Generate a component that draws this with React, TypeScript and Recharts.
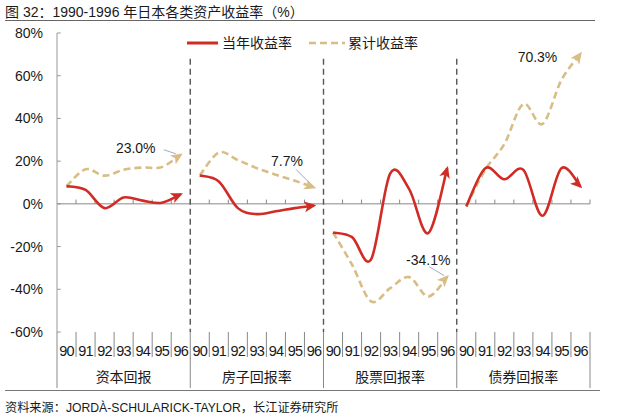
import React from 'react';
import { LineChart, Line, XAxis, YAxis, ReferenceLine } from 'recharts';

const YEARS = ['90', '91', '92', '93', '94', '95', '96'];
const GROUPS = ['资本回报', '房子回报率', '股票回报率', '债券回报率'];
const Y_TICKS = [-60, -40, -20, 0, 20, 40, 60, 80];

// 当年收益率 (%), one array per asset class
const capitalYearly = [8.3, 6.5, -2.0, 3.0, 1.5, 0.5, 4.5];
const housingYearly = [13.3, 10.5, -2.0, -4.8, -3.5, -2.0, -0.8];
const equityYearly = [-13.4, -15.6, -26.0, 14.2, 6.9, -13.7, 16.7];
const bondYearly = [-1.2, 16.7, 11.5, 15.9, -5.6, 16.7, 8.1];

// 累计收益率 (%)
const capitalCumulative = [8.3, 16.2, 13.2, 16.0, 17.0, 17.2, 23.0];
const housingCumulative = [13.3, 24.0, 20.5, 16.7, 13.6, 10.8, 7.7];
const equityCumulative = [-13.4, -28.5, -45.7, -39.5, -34.3, -43.4, -34.1];
const bondCumulative = [-1.2, 16.0, 28.0, 46.8, 37.4, 58.0, 70.3];

const yearlySeries = [capitalYearly, housingYearly, equityYearly, bondYearly];
const cumulativeSeries = [capitalCumulative, housingCumulative, equityCumulative, bondCumulative];

const RED = '#D12B25';
const TAN = '#D8BD85';
const TEXT = '#1a1a1a';
const FONT = '"Liberation Sans", Arial, "Noto Sans CJK SC", sans-serif';

const W = 640;
const H = 418;
const MARGIN = { top: 33, right: 50, bottom: 28, left: 0 };
const Y_W = 57;
const X_H = 58;
const N = YEARS.length * GROUPS.length;
const CW = (W - MARGIN.left - MARGIN.right - Y_W) / N;

// label placement for the final cumulative value of each group
const LABEL_POS = [
  { dx: -45, dy: -7, lead: [-17, -5, -5, -1] },
  { dx: -27, dy: -26, lead: [-18, -18, -7, -7] },
  { dx: -19, dy: -17, lead: [-18, -10, -3, -1] },
  { dx: -43, dy: 3, lead: null },
];

const data = Array.from({ length: N }, (_, i) => {
  const g = Math.floor(i / YEARS.length);
  const k = i % YEARS.length;
  const row: Record<string, number | string> = { i, year: YEARS[k] };
  row[`cur${g}`] = yearlySeries[g][k];
  row[`cum${g}`] = cumulativeSeries[g][k];
  return row;
});

// Excel-style smoothed line (Catmull-Rom through every point)
const excelSmooth = (context: any) => {
  let pts: number[][] = [];
  return {
    areaStart() {},
    areaEnd() {},
    lineStart() {
      pts = [];
    },
    point(x: number, y: number) {
      pts.push([+x, +y]);
    },
    lineEnd() {
      const n = pts.length;
      if (!n) return;
      context.moveTo(pts[0][0], pts[0][1]);
      for (let k = 0; k < n - 1; k++) {
        const p0 = pts[Math.max(k - 1, 0)];
        const p1 = pts[k];
        const p2 = pts[k + 1];
        const p3 = pts[Math.min(k + 2, n - 1)];
        context.bezierCurveTo(
          p1[0] + (p2[0] - p0[0]) / 6,
          p1[1] + (p2[1] - p0[1]) / 6,
          p2[0] - (p3[0] - p1[0]) / 6,
          p2[1] - (p3[1] - p1[1]) / 6,
          p2[0],
          p2[1]
        );
      }
    },
  };
};

const CategoryTick = (props: any) => {
  const { x, y, payload } = props;
  const i = payload.value;
  const k = i % YEARS.length;
  const g = Math.floor(i / YEARS.length);
  const left = x - CW / 2;
  return (
    <g>
      <line x1={left} x2={left} y1={y} y2={y + (k === 0 ? X_H - 2 : 25)} stroke="#888" strokeWidth={1} />
      {i === N - 1 && (
        <line x1={x + CW / 2} x2={x + CW / 2} y1={y} y2={y + X_H - 2} stroke="#888" strokeWidth={1} />
      )}
      <text x={x} y={y + 24} textAnchor="middle" fontSize={14.5} letterSpacing={-0.8} fill={TEXT} fontFamily={FONT}>
        {YEARS[k]}
      </text>
      {k === 3 && (
        <text x={x} y={y + 50} textAnchor="middle" fontSize={14} fill={TEXT} fontFamily={FONT}>
          {GROUPS[g]}
        </text>
      )}
    </g>
  );
};

const endLabel = (g: number) => (props: any) => {
  const { x, y, index, value } = props;
  if (index !== g * YEARS.length + YEARS.length - 1 || value == null) return null;
  const pos = LABEL_POS[g];
  return (
    <g>
      {pos.lead && (
        <line
          x1={x + pos.lead[0]}
          y1={y + pos.lead[1]}
          x2={x + pos.lead[2]}
          y2={y + pos.lead[3]}
          stroke="#8a93b0"
          strokeWidth={0.8}
        />
      )}
      <text
        x={x + pos.dx}
        y={y + pos.dy}
        textAnchor="middle"
        dominantBaseline="central"
        fontSize={14}
        fill={TEXT}
        fontFamily={FONT}
      >
        {`${Number(value).toFixed(1)}%`}
      </text>
    </g>
  );
};

export default function App() {
  return (
    <div style={{ position: 'absolute', left: 0, top: 0, width: W, height: H, background: '#fff', fontFamily: FONT, color: TEXT }}>
      <div style={{ position: 'absolute', left: 5, top: 3, fontSize: 14, lineHeight: '18px', whiteSpace: 'nowrap' }}>
        图 32：1990-1996 年日本各类资产收益率（%）
      </div>
      <div style={{ position: 'absolute', left: 5, top: 20, width: 590, height: 1, background: '#666' }} />

      <LineChart width={W} height={H} data={data} margin={MARGIN}>
        <defs>
          <marker id="arrowRed" viewBox="0 0 10 10" refX={8} refY={5} markerWidth={12} markerHeight={12} markerUnits="userSpaceOnUse" orient="auto">
            <path d="M0,0.5 L10,5 L0,9.5 L2.5,5 z" fill={RED} />
          </marker>
          <marker id="arrowTan" viewBox="0 0 10 10" refX={8} refY={5} markerWidth={12} markerHeight={12} markerUnits="userSpaceOnUse" orient="auto">
            <path d="M0,0.5 L10,5 L0,9.5 L2.5,5 z" fill={TAN} />
          </marker>
        </defs>
        <XAxis
          dataKey="i"
          type="number"
          domain={[-0.5, N - 0.5]}
          ticks={data.map((d) => d.i as number)}
          interval={0}
          height={X_H}
          tickSize={0}
          tickMargin={0}
          tickLine={false}
          axisLine={false}
          tick={CategoryTick}
        />
        <YAxis
          domain={[-60, 80]}
          ticks={Y_TICKS}
          width={Y_W}
          tickLine={false}
          tickSize={6}
          tickMargin={8}
          axisLine={{ stroke: '#999' }}
          tickFormatter={(v) => `${v}%`}
          tick={{ fontSize: 14, fill: TEXT, fontFamily: FONT }}
        />
        {Y_TICKS.map((v) => (
          <ReferenceLine
            key={`yt${v}`}
            segment={[{ x: -0.5, y: v }, { x: -0.3, y: v }]}
            stroke="#999"
            strokeWidth={1}
          />
        ))}
        <ReferenceLine y={0} stroke="#888" strokeWidth={1} />
        {data.map((d) => (
          <ReferenceLine
            key={`zt${d.i}`}
            segment={[{ x: (d.i as number) + 0.5, y: 0 }, { x: (d.i as number) + 0.5, y: 2 }]}
            stroke="#888"
            strokeWidth={1}
          />
        ))}
        {GROUPS.slice(1).map((_, g) => (
          <ReferenceLine
            key={`sep${g}`}
            segment={[{ x: (g + 1) * YEARS.length - 0.5, y: 68 }, { x: (g + 1) * YEARS.length - 0.5, y: -60 }]}
            stroke="#555"
            strokeWidth={1.4}
            strokeDasharray="6 4"
          />
        ))}
        {GROUPS.map((_, g) => (
          <Line
            key={`cum${g}`}
            dataKey={`cum${g}`}
            type={excelSmooth as any}
            stroke={TAN}
            strokeWidth={2.6}
            strokeDasharray="7 4"
            dot={false}
            activeDot={false}
            markerEnd="url(#arrowTan)"
            label={endLabel(g)}
            isAnimationActive={false}
          />
        ))}
        {GROUPS.map((_, g) => (
          <Line
            key={`cur${g}`}
            dataKey={`cur${g}`}
            type={excelSmooth as any}
            stroke={RED}
            strokeWidth={2.6}
            dot={false}
            activeDot={false}
            markerEnd="url(#arrowRed)"
            isAnimationActive={false}
          />
        ))}
      </LineChart>

      <svg style={{ position: 'absolute', left: 186, top: 37 }} width={34} height={12}>
        <line x1={1} x2={32} y1={6} y2={6} stroke={RED} strokeWidth={3} />
      </svg>
      <div style={{ position: 'absolute', left: 222, top: 34, fontSize: 14, lineHeight: '18px' }}>当年收益率</div>
      <svg style={{ position: 'absolute', left: 308, top: 37 }} width={38} height={12}>
        <line x1={1} x2={37} y1={6} y2={6} stroke={TAN} strokeWidth={2.6} strokeDasharray="7 4" />
      </svg>
      <div style={{ position: 'absolute', left: 348, top: 34, fontSize: 14, lineHeight: '18px' }}>累计收益率</div>

      <div style={{ position: 'absolute', left: 5, top: 390, width: 595, height: 1, background: '#777' }} />
      <div style={{ position: 'absolute', left: 5, top: 400, fontSize: 12.2, lineHeight: '16px', whiteSpace: 'nowrap' }}>
        资料来源：JORDÀ-SCHULARICK-TAYLOR，长江证券研究所
      </div>
    </div>
  );
}
